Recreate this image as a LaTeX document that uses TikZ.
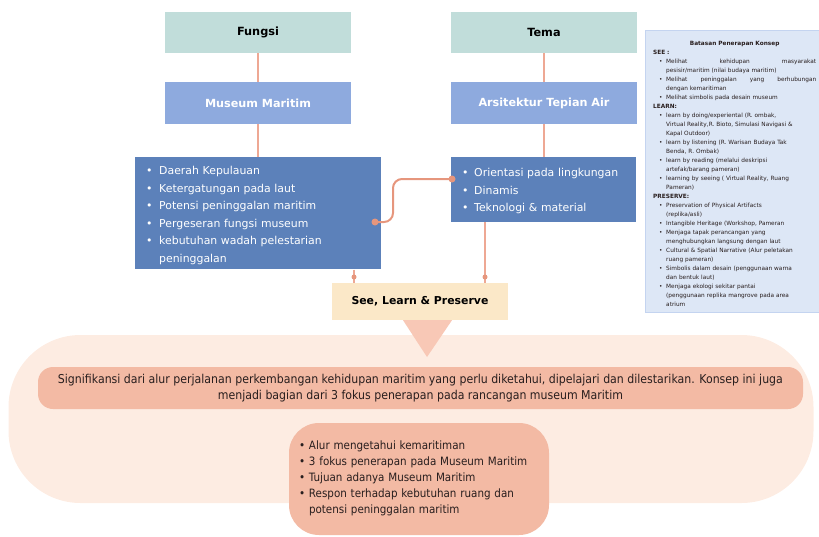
\documentclass[tikz,border=0pt]{standalone}
\usepackage{fontspec}
\setmainfont{DejaVu Sans}
\newfontfamily\condf{DejaVu Sans Condensed}
\usetikzlibrary{calc}
\definecolor{tealbox}{RGB}{193,221,218}
\definecolor{lblue}{RGB}{142,170,222}
\definecolor{sblue}{RGB}{92,129,186}
\definecolor{conn}{RGB}{238,168,148}
\definecolor{connd}{RGB}{230,150,125}
\definecolor{cream}{RGB}{251,232,200}
\definecolor{tri}{RGB}{248,200,182}
\definecolor{pale}{RGB}{253,236,226}
\definecolor{salmon}{RGB}{243,186,164}
\definecolor{panel}{RGB}{221,231,246}
\definecolor{panelb}{RGB}{196,212,240}
\definecolor{dtext}{RGB}{40,30,30}
\newlength\bwid
\newcommand{\nl}{\hfil\break}
% \bitem{lead}{width}{text}
\newcommand{\bitem}[3]{\par\noindent\setlength\bwid{#1}\addtolength\bwid{#2}%
  \hangindent=\bwid\hangafter=1\hbox to \bwid{\hskip #1\textbullet\hss}#3\par}
\tikzset{
  headbox/.style={fill=tealbox, minimum width=186pt, minimum height=41pt, inner sep=0pt, font=\bfseries\fontsize{11.3}{13}\selectfont, text=black},
  titlebox/.style={fill=lblue, minimum width=186pt, minimum height=42pt, inner sep=0pt, font=\bfseries\fontsize{11.2}{13}\selectfont, text=white},
  listbox/.style={fill=sblue, inner xsep=11pt, inner ysep=0pt, align=left, text=white, font=\fontsize{10.9}{17.5}\selectfont, anchor=north west},
  cline/.style={draw=conn, line width=1.2pt},
  dot/.style={circle, fill=connd, inner sep=0pt, minimum size=5pt},
}
\begin{document}
\begin{tikzpicture}[x=1pt,y=-1pt]
\useasboundingbox (0,0) rectangle (819,536);
% right panel
\node[fill=panel, draw=panelb, line width=0.6pt, anchor=north west, minimum width=176pt, minimum height=282pt, inner sep=0pt] (panel) at (645,30) {};
\node[anchor=north west, text width=163pt, inner sep=0pt, align=left, text=dtext, font=\fontsize{5.8}{9}\selectfont] (paneltxt) at (653,41.5) {%
\centering\textbf{Batasan Penerapan Konsep}\par
\raggedright\noindent\textbf{SEE :}\par
\bitem{6pt}{7pt}{Melihat \hfill kehidupan \hfill masyarakat\nl pesisir/maritim (nilai budaya maritim)}
\bitem{6pt}{7pt}{Melihat \hfill peninggalan \hfill yang \hfill berhubungan\nl dengan kemaritiman}
\bitem{6pt}{7pt}{Melihat simbolis pada desain museum}
\noindent\textbf{LEARN:}\par
\bitem{6pt}{7pt}{learn by doing/experiental (R. ombak,\nl Virtual Reality,R. Bioto, Simulasi Navigasi \&\nl Kapal Outdoor)}
\bitem{6pt}{7pt}{learn by listening (R. Warisan Budaya Tak\nl Benda, R. Ombak)}
\bitem{6pt}{7pt}{learn by reading (melalui deskripsi\nl artefak/barang pameran)}
\bitem{6pt}{7pt}{learning by seeing ( Virtual Reality, Ruang\nl Pameran)}
\noindent\textbf{PRESERVE:}\par
\bitem{6pt}{7pt}{Preservation of Physical Artifacts\nl (replika/asli)}
\bitem{6pt}{7pt}{Intangible Heritage (Workshop, Pameran}
\bitem{6pt}{7pt}{Menjaga tapak perancangan yang\nl menghubungkan langsung dengan laut}
\bitem{6pt}{7pt}{Cultural \& Spatial Narrative (Alur peletakan\nl ruang pameran)}
\bitem{6pt}{7pt}{Simbolis dalam desain (penggunaan warna\nl dan bentuk laut)}
\bitem{6pt}{7pt}{Menjaga ekologi sekitar pantai\nl (penggunaan replika mangrove pada area\nl atrium}};
% top boxes
\node[headbox] (fungsi) at (258,32.5) {Fungsi};
\node[headbox] (tema) at (544,32.5) {Tema};
\node[titlebox] (museum) at (258,103) {Museum Maritim};
\node[titlebox] (arsi) at (544,103) {Arsitektur Tepian Air};
% list boxes
\node[listbox, text width=224pt, minimum height=112pt] (llist) at (135,157) {%
\bitem{0pt}{13pt}{Daerah Kepulauan}
\bitem{0pt}{13pt}{Ketergatungan pada laut}
\bitem{0pt}{13pt}{Potensi peninggalan maritim}
\bitem{0pt}{13pt}{Pergeseran fungsi museum}
\bitem{0pt}{13pt}{kebutuhan wadah pelestarian\nl peninggalan}\vspace*{5pt}};
\node[listbox, text width=163pt, minimum height=65pt] (rlist) at (451,157) {%
\bitem{0pt}{12pt}{Orientasi pada lingkungan}
\bitem{0pt}{12pt}{Dinamis}
\bitem{0pt}{12pt}{Teknologi \& material}\vspace*{6.5pt}};
% see box
\node[fill=cream, minimum width=176pt, minimum height=37pt, inner sep=0pt, font=\bfseries\fontsize{10.9}{13}\selectfont, text=black] (see) at (420,301.5) {See, Learn \& Preserve};
% connectors
\draw[cline] (fungsi) -- (museum);
\draw[cline] (museum) -- (llist.north -| museum);
\draw[cline] (tema) -- (arsi);
\draw[cline] (arsi) -- (rlist.north -| arsi);
\coordinate (dl) at (354,277);
\coordinate (dr) at (485,277);
\draw[cline] (llist.south -| dl) -- (see.north -| dl);
\draw[cline] (rlist.south -| dr) -- (see.north -| dr);
\node[dot] (dotl) at (dl) {};
\node[dot] (dotr) at (dr) {};
\coordinate (sa) at (375,222);
\coordinate (sb) at (452,179);
\draw[draw=connd, line width=2pt, rounded corners=9pt] (sa) -- (393,222) -- (393,179) -- (sb);
\node[dot, minimum size=7pt] (sdotl) at (sa) {};
\node[dot, minimum size=7pt] (sdotr) at (sb) {};
% bottom
\node[fill=pale, rounded corners=72pt, minimum width=805pt, minimum height=168pt, inner sep=0pt] (bigshape) at (411,419) {};
\fill[tri] (see.south -| 403,0) -- (see.south -| 452,0) -- (427,357) -- cycle;
\node[fill=salmon, rounded corners=15pt, minimum width=765pt, minimum height=42pt, inner sep=0pt, align=center, text=dtext, font=\condf\fontsize{12.2}{16.5}\selectfont] (signif) at (420.5,388) {Signifikansi dari alur perjalanan perkembangan kehidupan maritim yang perlu diketahui, dipelajari dan dilestarikan. Konsep ini juga\\menjadi bagian dari 3 fokus penerapan pada rancangan museum Maritim};
\node[fill=salmon, rounded corners=30pt, minimum width=260pt, minimum height=112pt, inner xsep=10pt, inner ysep=0pt, text width=240pt, align=left, text=dtext, font=\condf\fontsize{11.5}{16.2}\selectfont] (focus) at (419,479) {%
\bitem{0pt}{10pt}{Alur mengetahui kemaritiman}
\bitem{0pt}{10pt}{3 fokus penerapan pada Museum Maritim}
\bitem{0pt}{10pt}{Tujuan adanya Museum Maritim}
\bitem{0pt}{10pt}{Respon terhadap kebutuhan ruang dan\nl potensi peninggalan maritim}\vspace*{9pt}};
\end{tikzpicture}
\end{document}
